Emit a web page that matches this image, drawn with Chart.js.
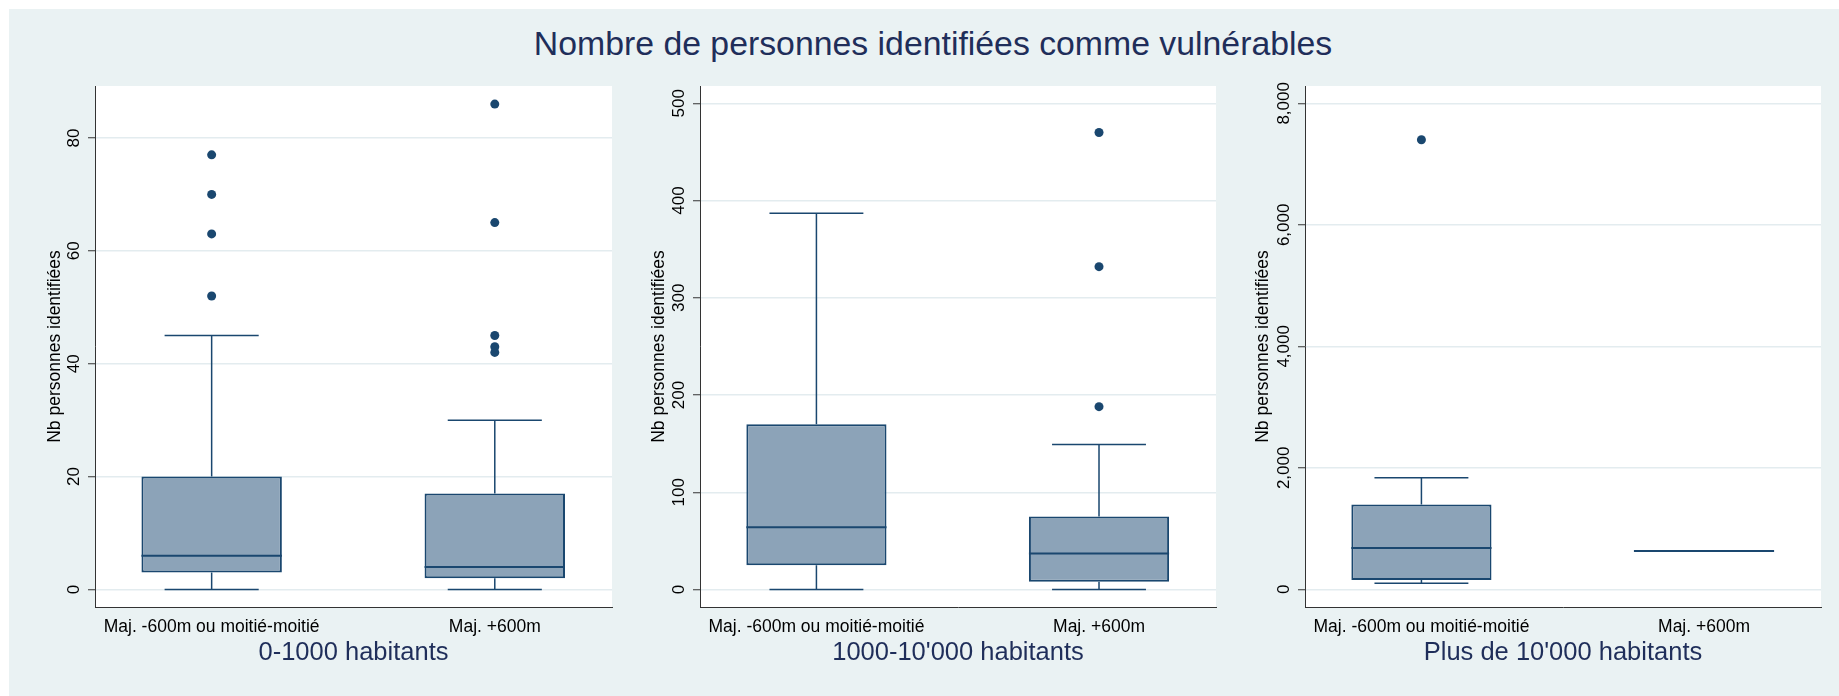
<!DOCTYPE html>
<html>
<head>
<meta charset="utf-8">
<script src="https://cdn.jsdelivr.net/npm/chart.js@4.4.1/dist/chart.umd.min.js"></script>
<style>
  body { margin: 0; background: #fff; width: 1839px; height: 696px; overflow: hidden; position: relative; font-family: "Liberation Sans", Arial, sans-serif; }
  #bg { position: absolute; left: 9px; top: 9px; width: 1830px; height: 687px; background: #eaf2f3; }
  #title { position: absolute; left: 0; top: 27px; width: 1866px; text-align: center; font-size: 33.8px; line-height: 33.8px; color: #1f2e5a; white-space: nowrap; }
  canvas { position: absolute; top: 80px; }
</style>
</head>
<body>
<div id="bg"></div>
<div id="title">Nombre de personnes identifiées comme vulnérables</div>
<canvas id="c1" width="631" height="616" style="left:9px"></canvas>
<canvas id="c2" width="590" height="616" style="left:640px"></canvas>
<canvas id="c3" width="609" height="616" style="left:1230px"></canvas>
<script>
const categories = ["Maj. -600m ou moitié-moitié", "Maj. +600m"];
const groupTitles = ["0-1000 habitants", "1000-10'000 habitants", "Plus de 10'000 habitants"];
const yTitle = "Nb personnes identifiées";

// 0-1000 habitants
const lowA = [0, 0];
const q1A = [3, 2];
const medA = [6, 4];
const q3A = [20, 17];
const highA = [45, 30];
const outA = [[52, 63, 70, 77], [42, 43, 45, 65, 86]];
const ticksA = [0, 20, 40, 60, 80];

// 1000-10'000 habitants
const lowB = [0, 0];
const q1B = [25, 8];
const medB = [64, 37];
const q3B = [170, 75];
const highB = [387, 149];
const outB = [[], [188, 332, 470]];
const ticksB = [0, 100, 200, 300, 400, 500];

// plus de 10'000 habitants
const lowC = [100, 632];
const q1C = [155, 632];
const medC = [680, 632];
const q3C = [1398, 632];
const highC = [1838, 632];
const outC = [[7400], []];
const ticksC = [0, 2000, 4000, 6000, 8000];

const navy = "#1a476f";
const boxFill = "#8ca3b8";
const titleNavy = "#1f2e5a";
const gridColor = "#e3ecef";
const axisColor = "#333";
const FONT = "'Liberation Sans', Arial, sans-serif";
Chart.defaults.font.family = FONT;

const panels = [
  { id: "c1", title: groupTitles[0], low: lowA, q1: q1A, med: medA, q3: q3A, high: highA, out: outA, ticks: ticksA,
    yMin: -3.1, yMax: 89.2, axisW: 86, padRight: 28, yTitlePad: 35.5 },
  { id: "c2", title: groupTitles[1], low: lowB, q1: q1B, med: medB, q3: q3B, high: highB, out: outB, ticks: ticksB,
    yMin: -18, yMax: 517.8, axisW: 60, padRight: 14, yTitlePad: 8.8 },
  { id: "c3", title: groupTitles[2], low: lowC, q1: q1C, med: medC, q3: q3C, high: highC, out: outC, ticks: ticksC,
    yMin: -291, yMax: 8285, axisW: 75, padRight: 18, yTitlePad: 22.9 }
];

function boxPlugin(p) {
  return {
    id: "boxes",
    beforeDraw(chart) {
      const a = chart.chartArea, ctx = chart.ctx;
      ctx.save();
      ctx.fillStyle = "#fff";
      ctx.fillRect(a.left, a.top, a.right - a.left, a.bottom - a.top);
      ctx.restore();
    },
    afterDatasetDraw(chart, args) {
      if (args.index !== 0) return;
      const ctx = chart.ctx;
      const x = chart.scales.x, y = chart.scales.y;
      const meta = chart.getDatasetMeta(0);
      ctx.save();
      ctx.strokeStyle = navy;
      meta.data.forEach((bar, i) => {
        const cx = x.getPixelForValue(i);
        const half = bar.width / 2;
        const cap = half * 0.67;
        ctx.lineWidth = 1.5;
        ctx.beginPath();
        if (p.high[i] > p.q3[i]) {
          const yt = y.getPixelForValue(p.high[i]);
          ctx.moveTo(cx, y.getPixelForValue(p.q3[i]));
          ctx.lineTo(cx, yt);
          ctx.moveTo(cx - cap, yt);
          ctx.lineTo(cx + cap, yt);
        }
        if (p.low[i] < p.q1[i]) {
          const yb = y.getPixelForValue(p.low[i]);
          ctx.moveTo(cx, y.getPixelForValue(p.q1[i]));
          ctx.lineTo(cx, yb);
          ctx.moveTo(cx - cap, yb);
          ctx.lineTo(cx + cap, yb);
        }
        ctx.stroke();
        const ym = y.getPixelForValue(p.med[i]);
        ctx.lineWidth = 2;
        ctx.beginPath();
        ctx.moveTo(cx - half, ym);
        ctx.lineTo(cx + half, ym);
        ctx.stroke();
      });
      ctx.restore();
    },
    afterDraw(chart) {
      const ctx = chart.ctx, y = chart.scales.y;
      ctx.save();
      ctx.font = "17px " + FONT;
      ctx.fillStyle = "#000";
      ctx.textAlign = "center";
      ctx.textBaseline = "middle";
      p.ticks.forEach(v => {
        ctx.save();
        ctx.translate(chart.chartArea.left - 21, y.getPixelForValue(v));
        ctx.rotate(-Math.PI / 2);
        ctx.fillText(v.toLocaleString("en-US"), 0, 0);
        ctx.restore();
      });
      ctx.restore();
    }
  };
}

panels.forEach(p => {
  const boxData = categories.map((c, i) => ({ x: i, y: [p.q1[i], p.q3[i]] }));
  const outData = [];
  p.out.forEach((vals, i) => vals.forEach(v => outData.push({ x: i, y: v })));

  new Chart(document.getElementById(p.id), {
    type: "bar",
    data: {
      datasets: [
        {
          data: boxData,
          backgroundColor: boxFill,
          borderColor: navy,
          borderWidth: 2,
          borderSkipped: false,
          categoryPercentage: 1,
          barPercentage: 0.496,
          order: 2
        },
        {
          type: "scatter",
          data: outData,
          pointRadius: 4.5,
          pointBackgroundColor: navy,
          pointBorderColor: navy,
          pointBorderWidth: 0,
          order: 1
        }
      ]
    },
    options: {
      responsive: false,
      animation: false,
      devicePixelRatio: 1,
      events: [],
      layout: { padding: { top: 6, right: p.padRight, left: 0, bottom: 0 } },
      plugins: { legend: { display: false }, tooltip: { enabled: false } },
      scales: {
        x: {
          type: "linear",
          min: -0.412,
          max: 1.414,
          offset: false,
          afterBuildTicks: s => { s.ticks = categories.map((c, i) => ({ value: i })); },
          afterFit: s => { s.height = 89; },
          grid: { display: false, offset: false },
          border: { display: true, color: axisColor, width: 1 },
          ticks: {
            callback: v => categories[v],
            color: "#000",
            font: { size: 17.5 },
            padding: 1.5,
            maxRotation: 0,
            autoSkip: false
          },
          title: {
            display: true,
            text: p.title,
            color: titleNavy,
            font: { size: 25.5 },
            padding: { top: 0, bottom: 28 }
          }
        },
        y: {
          min: p.yMin,
          max: p.yMax,
          afterBuildTicks: s => { s.ticks = p.ticks.map(v => ({ value: v })); },
          afterFit: s => { s.width = p.axisW; },
          grid: { color: gridColor, lineWidth: 1.5, tickColor: axisColor, tickWidth: 1, tickLength: 7, drawTicks: true },
          border: { display: true, color: axisColor, width: 1 },
          ticks: { display: false },
          title: {
            display: true,
            text: yTitle,
            color: "#000",
            font: { size: 17.5 },
            padding: { top: p.yTitlePad, bottom: 0 }
          }
        }
      }
    },
    plugins: [boxPlugin(p)]
  });
});
</script>
</body>
</html>
